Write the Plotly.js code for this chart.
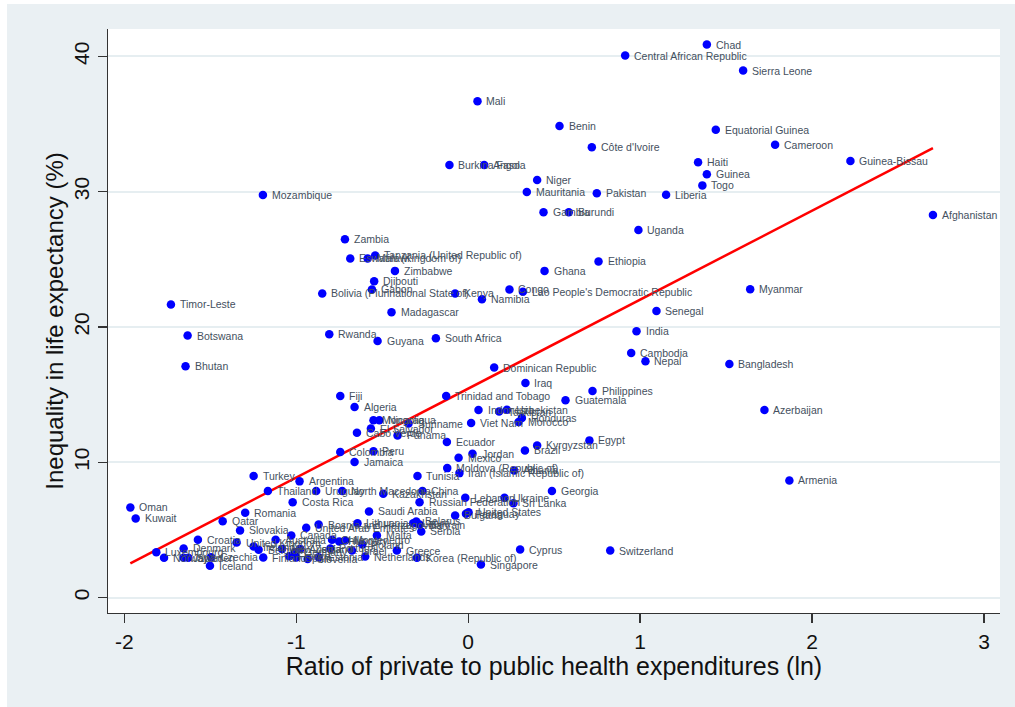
<!DOCTYPE html>
<html>
<head>
<meta charset="utf-8">
<script src="https://cdn.plot.ly/plotly-3.0.1.min.js"></script>
<style>
  html, body { margin: 0; padding: 0; background: #ffffff; width: 1015px; height: 707px; overflow: hidden; }
  #chart { position: absolute; left: 7px; top: 4px; width: 1008px; height: 703px; }
</style>
</head>
<body>
<div id="chart"></div>
<script>
// Country names, log ratio of private to public health expenditures, inequality in life expectancy (%)
const countries = [
  "Chad","Central African Republic","Sierra Leone","Mali","Benin","Côte d'Ivoire","Equatorial Guinea","Cameroon",
  "Guinea-Bissau","Haiti","Guinea","Togo","Burkina Faso","Angola","Niger","Mauritania","Pakistan","Liberia",
  "Gambia","Burundi","Uganda","Afghanistan","Mozambique","Zambia","Eswatini (Kingdom of)","Malawi",
  "Tanzania (United Republic of)","Zimbabwe","Djibouti","Gabon","Bolivia (Plurinational State of)","Kenya","Namibia",
  "Timor-Leste","Madagascar","Botswana","Rwanda","Guyana","South Africa","Bhutan","Ghana","Ethiopia","Congo",
  "Lao People's Democratic Republic","Senegal","India","Cambodia","Nepal","Dominican Republic","Myanmar",
  "Bangladesh","Azerbaijan","Armenia","Iraq","Philippines","Guatemala","Fiji","Trinidad and Tobago","Algeria",
  "Indonesia","Tajikistan","Uzbekistan","Honduras","Morocco","Viet Nam","Nicaragua","Mongolia","Suriname",
  "El Salvador","Cabo Verde","Panama","Ecuador","Colombia","Peru","Jamaica","Jordan","Mexico","Brazil",
  "Kyrgyzstan","Egypt","Moldova (Republic of)","Iran (Islamic Republic of)","Albania","Tunisia","Georgia","China",
  "North Macedonia","Kazakhstan","Uruguay","Argentina","Turkey","Thailand","Costa Rica","Russian Federation",
  "Lebanon","Ukraine","Sri Lanka","Bulgaria","Paraguay","United States","Saudi Arabia","Romania","Qatar","Oman",
  "Kuwait","Slovakia","Croatia","United Kingdom","Luxembourg","Denmark","Norway","Japan","Sweden","Czechia",
  "Iceland","Finland","Ireland","Belgium","Australia","Canada","New Zealand","France","Germany","Austria",
  "Slovenia","Estonia","United Arab Emirates","Bosnia and Herzegovina","Chile","Hungary","Israel","Netherlands",
  "Lithuania","Malta","Greece","Korea (Republic of)","Latvia","Bahrain","Serbia","Singapore","Cyprus",
  "Switzerland","Montenegro","Portugal","Spain","Poland","Belarus"
];

const ratioLn = [
  1.388,0.913,1.599,0.054,0.531,0.719,1.440,1.785,
  2.223,1.337,1.388,1.362,-0.109,0.093,0.401,0.341,0.748,1.151,
  0.438,0.585,0.990,2.703,-1.194,-0.717,-0.686,-0.585,
  -0.541,-0.426,-0.547,-0.560,-0.849,-0.076,0.080,
  -1.729,-0.446,-1.632,-0.808,-0.527,-0.188,-1.644,0.444,0.758,0.240,
  0.318,1.095,0.979,0.948,1.031,0.151,1.640,
  1.519,1.723,1.868,0.333,0.723,0.566,-0.744,-0.128,-0.661,
  0.060,0.180,0.225,0.312,0.293,0.017,-0.517,-0.551,-0.347,
  -0.566,-0.647,-0.411,-0.124,-0.744,-0.551,-0.661,0.025,-0.056,0.330,
  0.401,0.705,-0.122,-0.051,0.267,-0.295,0.487,-0.266,
  -0.733,-0.494,-0.884,-0.981,-1.248,-1.165,-1.021,-0.283,
  -0.017,0.211,0.263,-0.076,-0.013,0.002,-0.577,-1.297,-1.428,-1.965,
  -1.934,-1.327,-1.572,-1.347,-1.814,-1.655,-1.769,-1.655,-1.628,-1.496,
  -1.502,-1.192,-1.248,-1.219,-1.120,-1.029,-1.083,-1.041,-1.008,-0.977,
  -0.934,-0.870,-0.942,-0.870,-0.792,-0.750,-0.676,-0.599,
  -0.644,-0.531,-0.415,-0.298,-0.320,-0.283,-0.273,0.074,0.302,
  0.826,-0.715,-0.802,-1.000,-0.616,-0.302
];

const ineqLE = [
  40.88,40.07,38.96,36.69,34.86,33.29,34.59,33.48,
  32.27,32.18,31.29,30.47,31.98,31.98,30.87,29.98,29.88,29.78,
  28.48,28.48,27.17,28.28,29.76,26.48,25.07,25.07,
  25.29,24.15,23.39,22.78,22.48,22.48,22.06,
  21.67,21.10,19.37,19.47,18.97,19.17,17.10,24.15,24.85,22.78,
  22.60,21.19,19.69,18.08,17.47,17.00,22.80,
  17.27,13.86,8.66,15.86,15.27,14.58,14.90,14.90,14.09,
  13.86,13.75,13.89,13.27,12.98,12.90,13.10,13.10,12.86,
  12.49,12.19,11.99,11.50,10.76,10.81,10.02,10.64,10.34,10.88,
  11.25,11.62,9.57,9.20,9.40,8.98,7.87,7.87,
  7.87,7.68,7.87,8.59,8.98,7.87,7.05,7.05,
  7.38,7.38,6.98,6.07,6.20,6.31,6.37,6.27,5.65,6.66,
  5.85,4.96,4.27,4.07,3.35,3.63,2.94,2.94,2.94,2.98,
  2.35,2.96,3.77,3.53,4.27,4.59,3.60,3.06,3.35,3.60,
  2.86,2.98,5.16,5.40,4.27,4.15,3.48,3.03,
  5.50,4.59,3.48,2.94,5.50,5.40,4.89,2.44,3.55,
  3.48,4.22,3.63,2.96,3.92,5.63
];

const xTicks = [-2, -1, 0, 1, 2, 3];
const yTicks = [0, 10, 20, 30, 40];

// Least-squares fitted line over the observed range
const n = ratioLn.length;
const mx = ratioLn.reduce((a, b) => a + b, 0) / n;
const my = ineqLE.reduce((a, b) => a + b, 0) / n;
let sxy = 0, sxx = 0;
for (let i = 0; i < n; i++) {
  sxy += (ratioLn[i] - mx) * (ineqLE[i] - my);
  sxx += (ratioLn[i] - mx) * (ratioLn[i] - mx);
}
const slope = sxy / sxx;
const intercept = my - slope * mx;
const xMin = Math.min(...ratioLn), xMax = Math.max(...ratioLn);
const fitX = [xMin, xMax];
const fitY = fitX.map(v => intercept + slope * v);

const points = {
  type: 'scatter', mode: 'markers',
  x: ratioLn, y: ineqLE, text: countries,
  marker: { color: '#0000ff', size: 8.5, line: { width: 0 } },
  hoverinfo: 'text', showlegend: false
};
const fit = {
  type: 'scatter', mode: 'lines',
  x: fitX, y: fitY,
  line: { color: '#ff0000', width: 2.5 },
  hoverinfo: 'skip', showlegend: false
};

const labels = countries.map((c, i) => ({
  x: ratioLn[i], y: ineqLE[i], text: c,
  xref: 'x', yref: 'y', showarrow: false,
  xanchor: 'left', yanchor: 'middle', xshift: 7,
  font: { family: 'Liberation Sans, Arial, sans-serif', size: 10.5, color: '#44505e' }
}));

const font = 'Liberation Sans, Arial, sans-serif';
const layout = {
  width: 1008, height: 703,
  paper_bgcolor: '#eaf0f3', plot_bgcolor: '#ffffff',
  margin: { l: 101, r: 15, t: 25, b: 94 },
  font: { family: font, color: '#111111' },
  xaxis: {
    range: [-2.095, 3.093], tickvals: xTicks, ticktext: xTicks.map(String),
    showgrid: false, zeroline: false,
    showline: true, linecolor: '#333333', linewidth: 1.3,
    ticks: 'outside', ticklen: 9, tickwidth: 1.3, tickcolor: '#333333',
    tickfont: { family: font, size: 21, color: '#111111' },
    title: { text: 'Ratio of private to public health expenditures (ln)', font: { family: font, size: 25, color: '#111111' }, standoff: 4 }
  },
  yaxis: {
    range: [-1.14, 42.03], tickvals: yTicks, ticktext: yTicks.map(String),
    tickangle: -90,
    showgrid: true, gridcolor: '#e6eef1', gridwidth: 2, zeroline: false,
    showline: true, linecolor: '#333333', linewidth: 1.3,
    ticks: 'outside', ticklen: 9, tickwidth: 1.3, tickcolor: '#333333',
    tickfont: { family: font, size: 21, color: '#111111' },
    title: { text: 'Inequality in life expectancy (%)', font: { family: font, size: 24, color: '#111111' }, standoff: 0 }
  },
  annotations: labels
};

Plotly.newPlot('chart', [fit, points], layout, { displayModeBar: false, staticPlot: true });
</script>
</body>
</html>
